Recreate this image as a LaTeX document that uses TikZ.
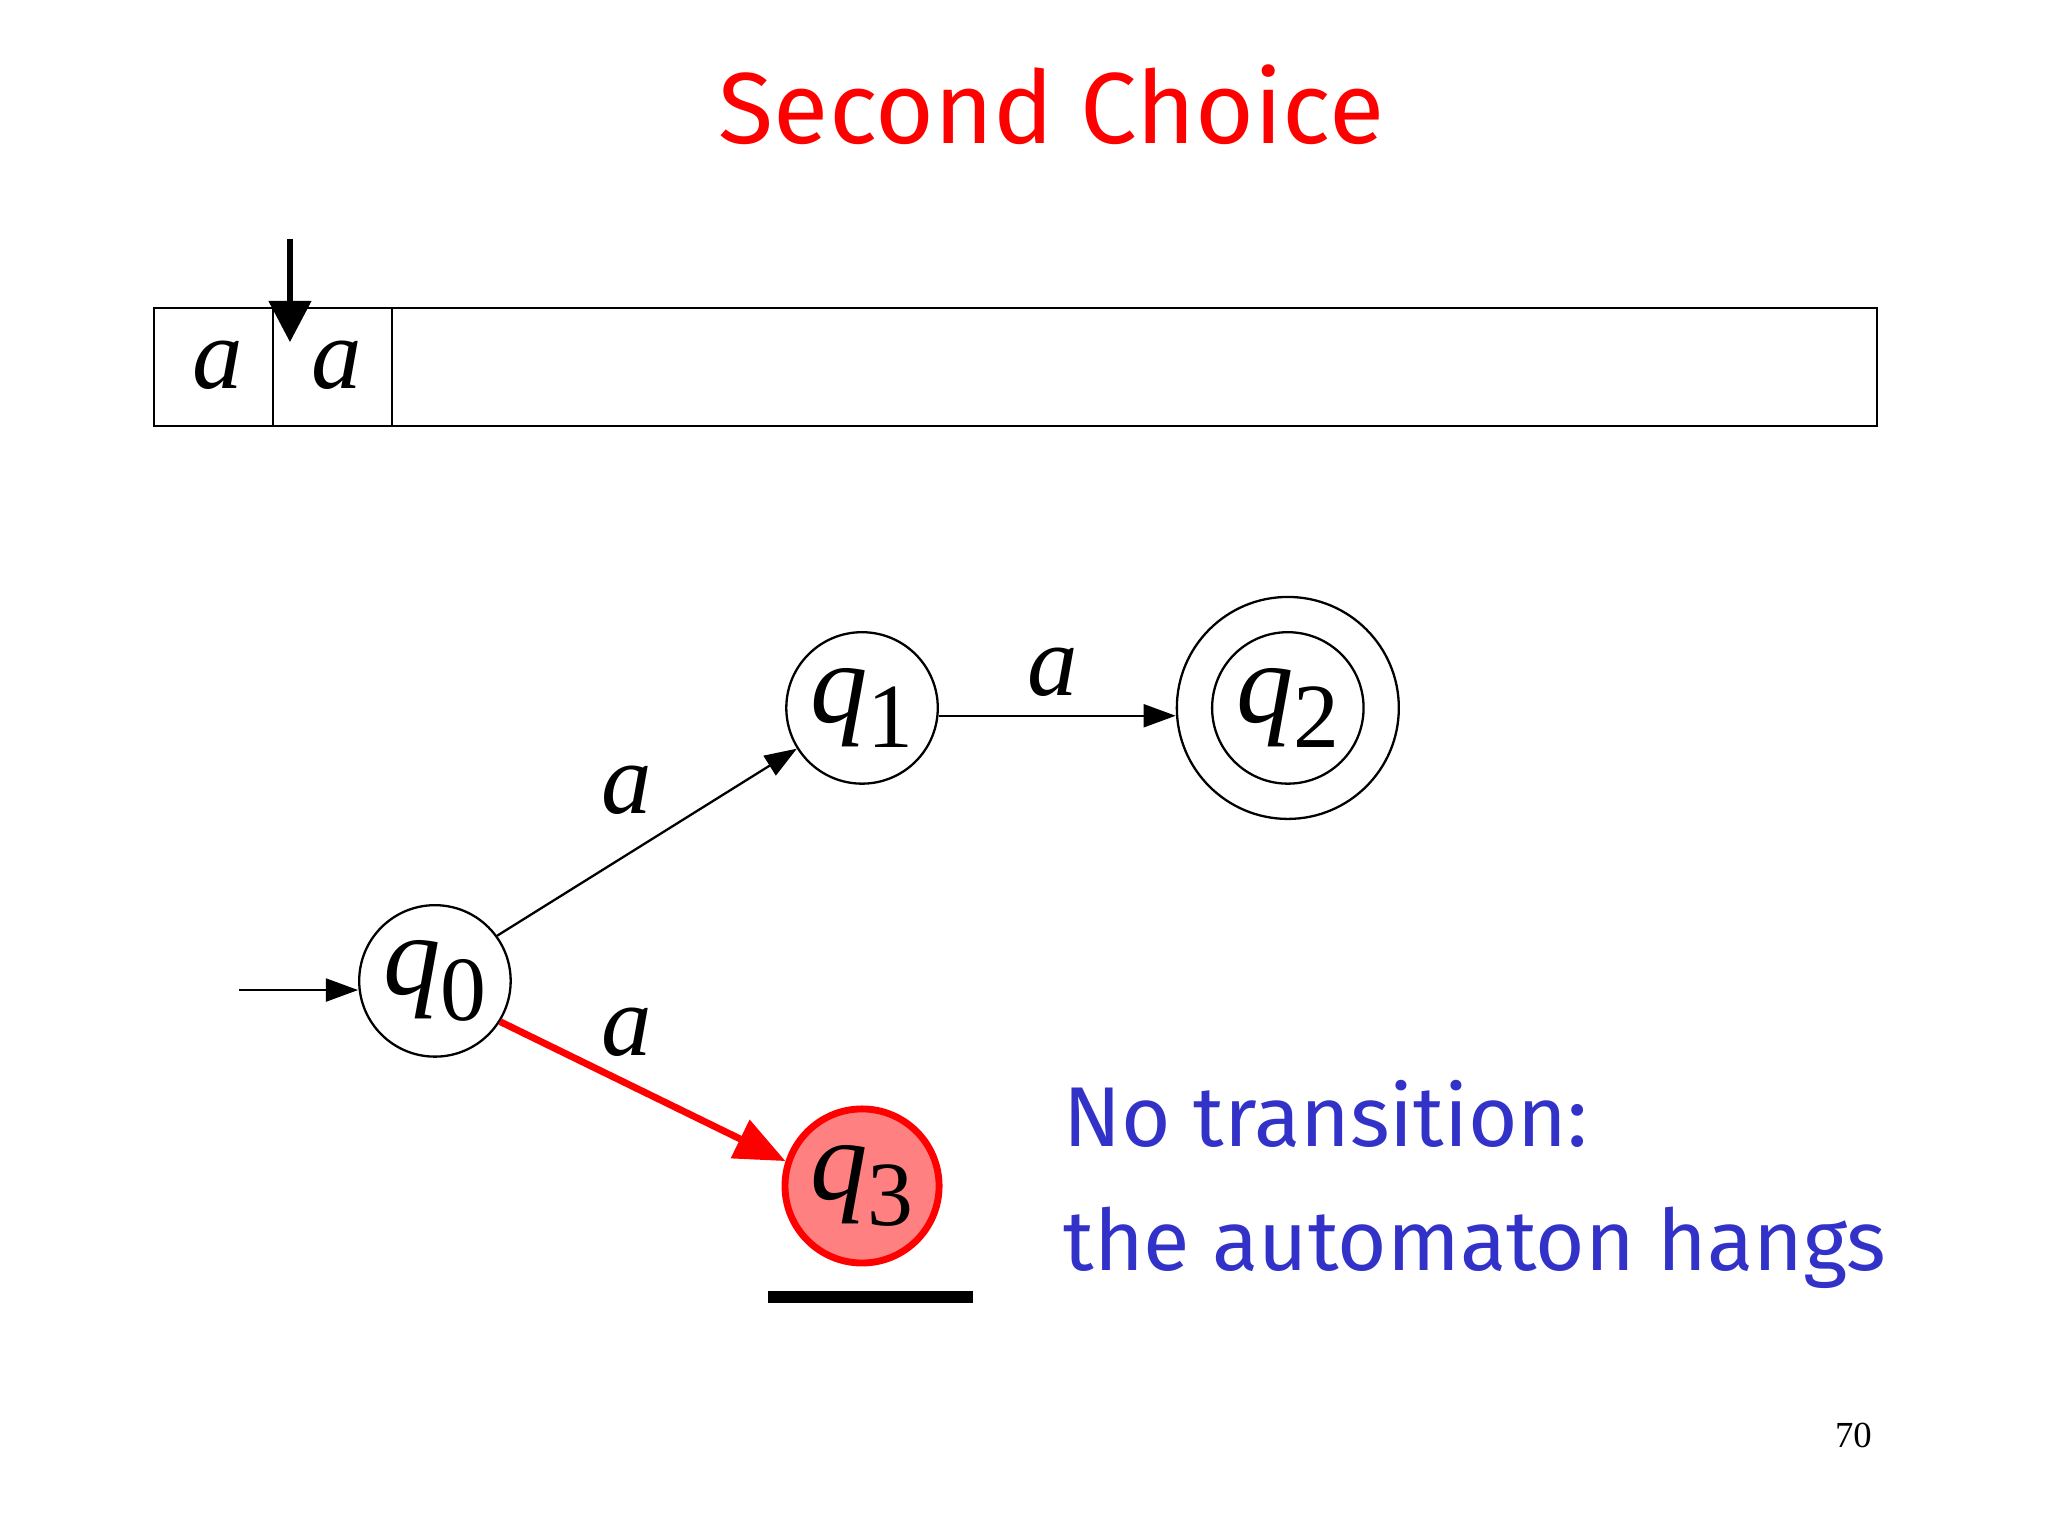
\documentclass[tikz,border=0pt]{standalone}
\usepackage{fontspec}
\setmainfont{Liberation Serif}
\newfontfamily\comic{Fira Sans}
\usetikzlibrary{arrows.meta}
\definecolor{tblue}{RGB}{50,50,200}
\newcommand{\qs}[1]{{\itshape q}\raisebox{-0.22em}{\fontsize{40}{40}\selectfont #1}}
\begin{document}
\begin{tikzpicture}[x=0.02cm,y=-0.02cm,
  st/.style={circle,draw,line width=1pt,minimum size=2.32cm,inner sep=0pt},
  lbl/.style={font=\fontsize{44}{44}\selectfont\itshape},
  ql/.style={font=\fontsize{50}{50}\selectfont},
  tr/.style={line width=1pt,-{Triangle[length=14pt,width=10pt]}}]
\useasboundingbox (0,0) rectangle (1568,1176);
\node[text=red,font=\comic\fontsize{44}{44}\selectfont] (title) at (805,80) {Second Choice};
\draw[line width=1pt] (118,236) rectangle (1437,326);
\draw[line width=1pt] (209,236) -- (209,326) (300,236) -- (300,326);
\node[lbl] (t1) at (167,280) {a};
\node[lbl] (t2) at (258,280) {a};
\coordinate (hd) at (222,183);
\coordinate (hdend) at (222,262);
\draw[line width=3pt,-{Triangle[length=18pt,width=18pt]}] (hd) -- (hdend);
\node[st] (q0) at (333,751) {};
\node[ql] at (q0) {\qs{0}};
\node[st] (q1) at (660,542) {};
\node[ql] at (q1) {\qs{1}};
\node[circle,draw,line width=1pt,minimum size=3.4cm] (q2o) at (986,542) {};
\node[st] (q2) at (986,542) {};
\node[ql] at (q2) {\qs{2}};
\node[circle,draw=red,line width=3pt,fill=red!50,minimum size=2.36cm,inner sep=0pt] (q3) at (660,908) {};
\node[ql] at (q3) {\qs{3}};
\coordinate (start) at (183,758);
\draw[tr] (start) -- (q0.west |- start);
\draw[tr] (q0.36) -- (q1.212);
\draw[tr] (q1.east |- 0,548) -- (q2o.west |- 0,548);
\draw[red,line width=3pt,-{Triangle[length=22pt,width=18pt]}] (q0.-32) -- (q3.162);
\node[lbl] (l1) at (480,605) {a};
\node[lbl] (l2) at (806,515) {a};
\node[lbl] (l3) at (480,790) {a};
\draw[line width=5pt] (588,993) -- (745,993);
\node[anchor=west,text=tblue,font=\comic\fontsize{37}{37}\selectfont] (n1) at (808,853) {No transition:};
\node[anchor=west,text=tblue,font=\comic\fontsize{37}{37}\selectfont] (n2) at (808,955) {the automaton hangs};
\node[font=\fontsize{16}{16}\selectfont] (pg) at (1419,1099) {70};
\end{tikzpicture}
\end{document}
